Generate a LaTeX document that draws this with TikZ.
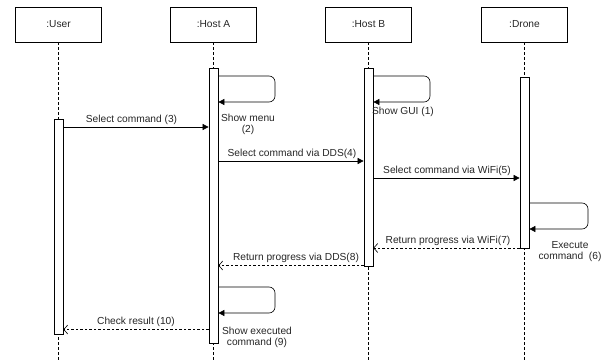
\documentclass[tikz,border=0pt]{standalone}
\usepackage{fontspec}
\setmainfont{Liberation Sans}
\usetikzlibrary{arrows.meta}
\begin{document}
\begin{tikzpicture}[x=1pt,y=-1pt,
  lbl/.style={font=\fontsize{10.2}{11}\selectfont, text=black!85, inner sep=0pt, align=center},
  head/.style={draw, line width=0.7pt, minimum width=86pt, minimum height=35pt, inner sep=0pt, font=\fontsize{10.2}{11}\selectfont, text=black!85},
  life/.style={draw, line width=0.6pt, dash pattern=on 2.5pt off 2.5pt},
  bar/.style={draw, fill=white, line width=0.7pt, minimum width=9pt, inner sep=0pt},
  msg/.style={draw, line width=0.6pt, -{Triangle[length=6pt,width=6pt]}},
  ret/.style={draw, line width=0.6pt, dash pattern=on 2.5pt off 2pt, -{Straight Barb[length=4pt,width=9pt]}},
  self/.style={draw, line width=0.6pt, rounded corners=6pt, -{Triangle[length=6pt,width=6pt]}}]
\useasboundingbox (0,0) rectangle (608,361);
% heads
\node[head] (user) at (58.5,24.5) {:User};
\node[head] (hosta) at (213.5,24.5) {:Host A};
\node[head] (hostb) at (368.5,24.5) {:Host B};
\node[head] (drone) at (524.5,24.5) {:Drone};
% lifelines
\coordinate (ue) at (58.5,361);
\coordinate (ae) at (213.5,361);
\coordinate (be) at (368.5,361);
\coordinate (de) at (524.5,361);
\draw[life] (user.south) -- (ue);
\draw[life] (hosta.south) -- (ae);
\draw[life] (hostb.south) -- (be);
\draw[life] (drone.south) -- (de);
% activation bars
\node[bar, minimum height=215pt] (ubar) at (58.5,226.5) {};
\node[bar, minimum height=275pt] (abar) at (213.5,205.5) {};
\node[bar, minimum height=198pt] (bbar) at (368.5,167) {};
\node[bar, minimum height=171pt] (dbar) at (524.5,162.5) {};
% self messages
\draw[self] (abar.east |- 0,76) -- (275,76) -- (275,102) -- (abar.east |- 0,102);
\node[lbl] (l2) at (248,124) {Show menu\\(2)};
\draw[self] (bbar.east |- 0,76) -- (430,76) -- (430,102) -- (bbar.east |- 0,102);
\node[lbl] (l1) at (403,112) {Show GUI (1)};
\draw[self] (dbar.east |- 0,203) -- (588,203) -- (588,229) -- (dbar.east |- 0,229);
\node[lbl] (l6) at (570,252) {Execute\\command\ \ (6)};
\draw[self] (abar.east |- 0,287) -- (275,287) -- (275,313) -- (abar.east |- 0,313);
\node[lbl] (l9) at (257,337.5) {Show executed\\command (9)};
% messages
\draw[msg] (ubar.east |- 0,127) -- (abar.west |- 0,127);
\node[lbl] (l3) at (131.5,120) {Select command (3)};
\draw[msg] (abar.east |- 0,161) -- (bbar.west |- 0,161);
\node[lbl] (l4) at (292,154) {Select command via DDS(4)};
\draw[msg] (bbar.east |- 0,178) -- (dbar.west |- 0,178);
\node[lbl] (l5) at (447,171) {Select command via WiFi(5)};
\draw[ret] (dbar.west |- 0,248) -- (bbar.east |- 0,248);
\node[lbl] (l7) at (448,240.5) {Return progress via WiFi(7)};
\draw[ret] (bbar.west |- 0,265.5) -- (abar.east |- 0,265.5);
\node[lbl] (l8) at (296,258) {Return progress via DDS(8)};
\draw[ret] (abar.west |- 0,329.5) -- (ubar.east |- 0,329.5);
\node[lbl] (l10) at (136,321.5) {Check result (10)};
\end{tikzpicture}
\end{document}
